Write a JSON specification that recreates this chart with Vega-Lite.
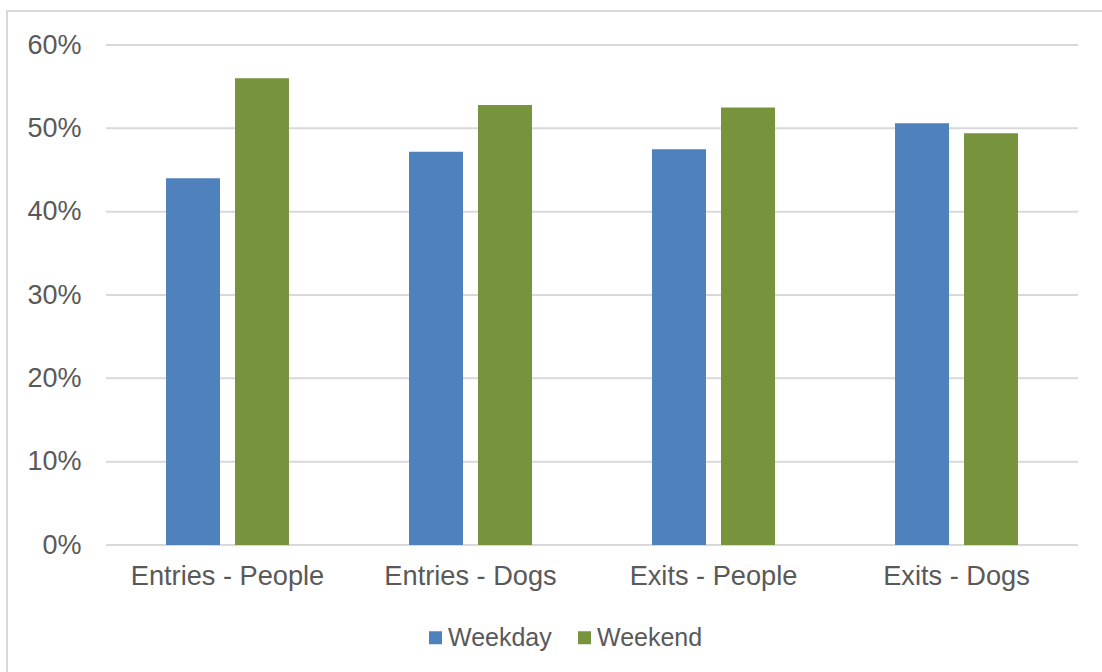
{
  "$schema": "https://vega.github.io/schema/vega-lite/v6.json",
  "description": "Weekday vs weekend share of entries and exits, people and dogs",
  "width": 1097,
  "height": 663,
  "autosize": {"type": "none"},
  "padding": {"left": 7, "top": 11, "right": -2, "bottom": -2},
  "background": "white",
  "config": {
    "font": "Liberation Sans",
    "view": {"stroke": "#d9d9d9", "strokeWidth": 2}
  },
  "datasets": {
    "shares": [
      {"category": "Entries - People", "period": "Weekday", "share": 0.44},
      {"category": "Entries - People", "period": "Weekend", "share": 0.56},
      {"category": "Entries - Dogs", "period": "Weekday", "share": 0.472},
      {"category": "Entries - Dogs", "period": "Weekend", "share": 0.528},
      {"category": "Exits - People", "period": "Weekday", "share": 0.475},
      {"category": "Exits - People", "period": "Weekend", "share": 0.525},
      {"category": "Exits - Dogs", "period": "Weekday", "share": 0.506},
      {"category": "Exits - Dogs", "period": "Weekend", "share": 0.494}
    ],
    "gridlines": [
      {"tick": 0}, {"tick": 0.1}, {"tick": 0.2}, {"tick": 0.3},
      {"tick": 0.4}, {"tick": 0.5}, {"tick": 0.6}
    ]
  },
  "layer": [
    {
      "data": {"name": "gridlines"},
      "mark": {"type": "rule", "color": "#d9d9d9", "strokeWidth": 2},
      "encoding": {
        "y": {
          "field": "tick",
          "type": "quantitative",
          "scale": {"domain": [-0.1548, 0.6408], "nice": false, "zero": false},
          "axis": {
            "orient": "left",
            "values": [0, 0.1, 0.2, 0.3, 0.4, 0.5, 0.6],
            "format": ".0%",
            "grid": false,
            "domain": false,
            "ticks": false,
            "offset": -99,
            "labelPadding": 25,
            "labelFontSize": 27,
            "labelColor": "#595959",
            "title": null
          }
        },
        "x": {"datum": "Entries - People", "bandPosition": 0},
        "x2": {"datum": "Exits - Dogs", "bandPosition": 1}
      }
    },
    {
      "data": {"name": "shares"},
      "mark": {"type": "bar"},
      "encoding": {
        "x": {
          "field": "category",
          "type": "nominal",
          "scale": {
            "domain": ["Entries - People", "Entries - Dogs", "Exits - People", "Exits - Dogs"],
            "paddingInner": 0,
            "paddingOuter": 0.2572,
            "align": 0.792
          },
          "axis": {
            "orient": "bottom",
            "offset": -129,
            "bandPosition": 0.5,
            "domain": false,
            "ticks": false,
            "grid": false,
            "labelAngle": 0,
            "labelAlign": "center",
            "labelLimit": 0,
            "labelPadding": 31,
            "labelFontSize": 27.2,
            "labelColor": "#595959",
            "title": null
          }
        },
        "xOffset": {
          "field": "period",
          "type": "nominal",
          "scale": {"paddingInner": 0.2174, "paddingOuter": 0.87}
        },
        "y": {"field": "share", "type": "quantitative"},
        "color": {
          "field": "period",
          "type": "nominal",
          "scale": {"domain": ["Weekday", "Weekend"], "range": ["#4F81BD", "#77933C"]},
          "legend": {
            "orient": "none",
            "direction": "horizontal",
            "legendX": 416,
            "legendY": 614,
            "title": null,
            "padding": 0,
            "symbolType": "square",
            "symbolSize": 169,
            "symbolStrokeWidth": 0,
            "labelFontSize": 25,
            "labelColor": "#595959",
            "labelOffset": 0,
            "columnPadding": 20
          }
        }
      }
    }
  ]
}
